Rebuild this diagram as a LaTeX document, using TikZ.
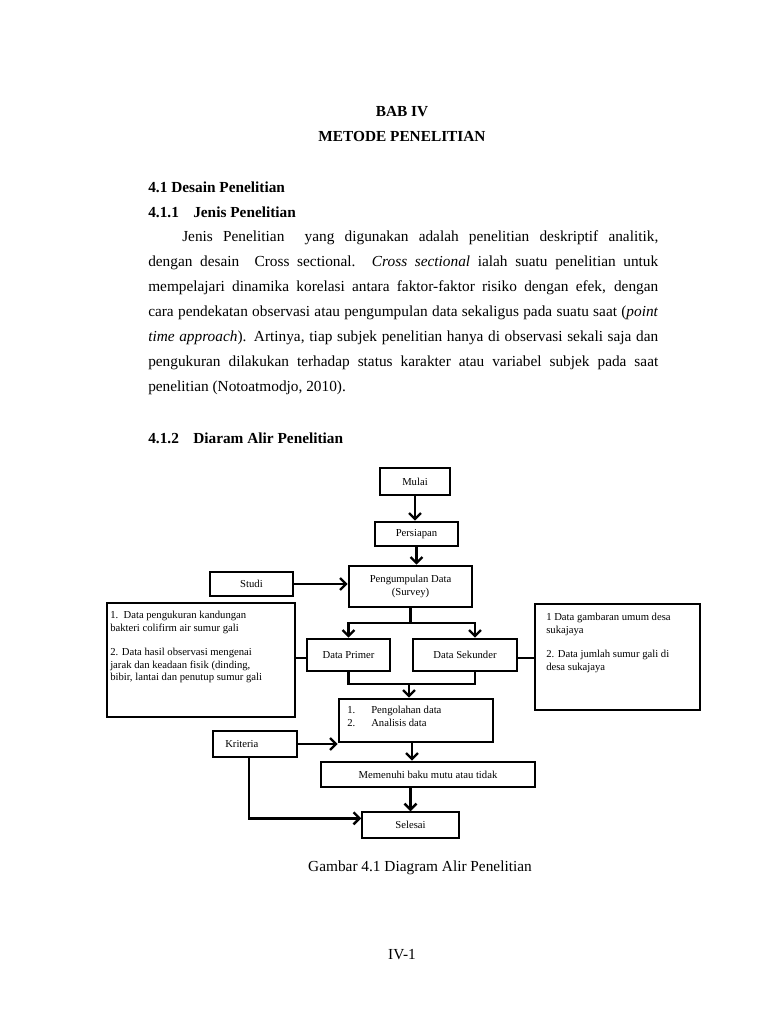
\documentclass[tikz,border=0pt]{standalone}
\usepackage{fontspec}
\setmainfont{Liberation Serif}
\usetikzlibrary{arrows.meta,positioning,calc}

\tikzset{
  box/.style 2 args={draw, line width=1.9pt, inner sep=0pt, align=center,
    minimum width={#1*0.75pt}, minimum height={#2*0.75pt}, font=\fontsize{8}{9.5}\selectfont},
  txt/.style={inner sep=0pt, align=left, font=\fontsize{8}{9.5}\selectfont},
  flow/.style={line width=1.8pt, -{Straight Barb[length=4.5pt,width=9pt]}},
  link/.style={line width=1.8pt},
  body/.style={inner sep=0pt, anchor=base west, font=\fontsize{11.5}{14}\selectfont},
  head/.style={body, font=\fontsize{11.5}{14}\selectfont\bfseries},
}

\begin{document}
\begin{tikzpicture}[x=0.75pt,y=-0.75pt]
\useasboundingbox (0,0) rectangle (768,1024);
% Headings
\node[head, anchor=base] (bab) at (402,116) {BAB IV};
\node[head, anchor=base] (judul) at (402,141) {METODE PENELITIAN};
\node[head] (sub1) at (148,192) {4.1 Desain Penelitian};
\node[head] (sub11) at (148,217) {4.1.1};
\node[head] (sub11t) at (193,217) {Jenis Penelitian};
% Paragraph, justified line by line
\node[body] (line1) at (182,241) {\makebox[357pt][s]{Jenis Penelitian\ \ yang digunakan adalah penelitian deskriptif analitik,}};
\foreach \n/\t in {2/{dengan desain\ \ Cross sectional. \textit{Cross sectional} ialah suatu penelitian untuk},
                   3/{mempelajari dinamika korelasi antara faktor-faktor risiko dengan efek, dengan},
                   4/{cara pendekatan observasi atau pengumpulan data sekaligus pada suatu saat (\textit{point}},
                   5/{\textit{time approach}). Artinya, tiap subjek penelitian hanya di observasi sekali saja dan},
                   6/{pengukuran dilakukan terhadap status karakter atau variabel subjek pada saat}} {
  \node[body] (line\n) at (148,{241+25*(\n-1)}) {\makebox[382.5pt][s]{\t}};
}
\node[body] (line7) at (148,391) {penelitian (Notoatmodjo, 2010).};
\node[head] (sub12) at (148,443) {4.1.2};
\node[head] (sub12t) at (193,443) {Diaram Alir Penelitian};

% Flow boxes
\node[box={70}{27}] (mulai) at (415,481.5) {Mulai};
\node[box={83}{24}] (persiapan) at (416.5,534) {Persiapan};
\node[box={123}{41}] (kumpul) at (410.5,586.5) {Pengumpulan Data\\(Survey)};
\node[box={83}{24}] (studi) at (251.5,584) {Studi};
\node[box={188}{114}] (primerket) at (201,660) {};
\node[box={83}{32}] (primer) at (348.5,655) {Data Primer};
\node[box={104}{32}] (sekunder) at (465,655) {Data Sekunder};
\node[box={165}{106}] (sekunderket) at (617.5,657) {};
\node[box={154}{43}] (olah) at (416,720.5) {};
\node[box={84}{26}, line width=1.5pt] (kriteria) at (255,744) {};
\node[box={214}{25}] (baku) at (428,774.5) {Memenuhi baku mutu atau tidak};
\node[box={97}{26}, line width=1.1pt] (selesai) at (410.5,825) {Selesai};

% Texts inside the boxes
\node[txt, anchor=north west] (primertxt) at (110,611) {1.\ \ Data pengukuran kandungan\\bakteri colifirm air sumur gali\\[8.5pt]2. Data hasil observasi mengenai\\jarak dan keadaan fisik (dinding,\\bibir, lantai dan penutup sumur gali};
\node[txt, anchor=north west] (sekundertxt) at (546,613) {1 Data gambaran umum desa\\sukajaya\\[8.5pt]2. Data jumlah sumur gali di\\desa sukajaya};
\node[txt, anchor=north west] (olahtxt) at (347,706) {\makebox[18pt][l]{1.}Pengolahan data\\\makebox[18pt][l]{2.}Analisis data};
\node[txt, anchor=west] (kriteriatxt) at (225,744) {Kriteria};

% Connectors
\draw[flow] (mulai.south) -- (mulai.south |- persiapan.north);
\draw[flow] (persiapan.south) -- (persiapan.south |- kumpul.north);
\draw[flow] (studi.east) -- (kumpul.west |- studi.east);
\coordinate (split) at ($(kumpul.south)+(0,15)$);
\draw[link] (kumpul.south) -- (split);
\draw[flow] (split) -| (primer.north);
\draw[flow] (split) -| ([xshift=7.5pt]sekunder.north);
\draw[link] (primerket.east |- 0,658) -- (primer.west |- 0,658);
\draw[link] (sekunder.east |- 0,658) -- (sekunderket.west |- 0,658);
\coordinate (join) at (409,684);
\draw[link] (primer.south) |- (join) -| ([xshift=7.5pt]sekunder.south);
\draw[flow] (join) -- (join |- olah.north);
\draw[flow] (kriteria.east) -- (olah.south west |- kriteria.east);
\draw[flow] ([xshift=-3pt]olah.south) -- ([xshift=-3pt]olah.south |- baku.north);
\draw[flow] (selesai.north |- baku.south) -- (selesai.north);
\draw[flow] ([xshift=-4.5pt]kriteria.south) |- ([yshift=5pt]selesai.west);

% Caption and page number
\node[body, anchor=base] (caption) at (420,871) {Gambar 4.1 Diagram Alir Penelitian};
\node[body, anchor=base] (halaman) at (402,959) {IV-1};
\end{tikzpicture}
\end{document}
